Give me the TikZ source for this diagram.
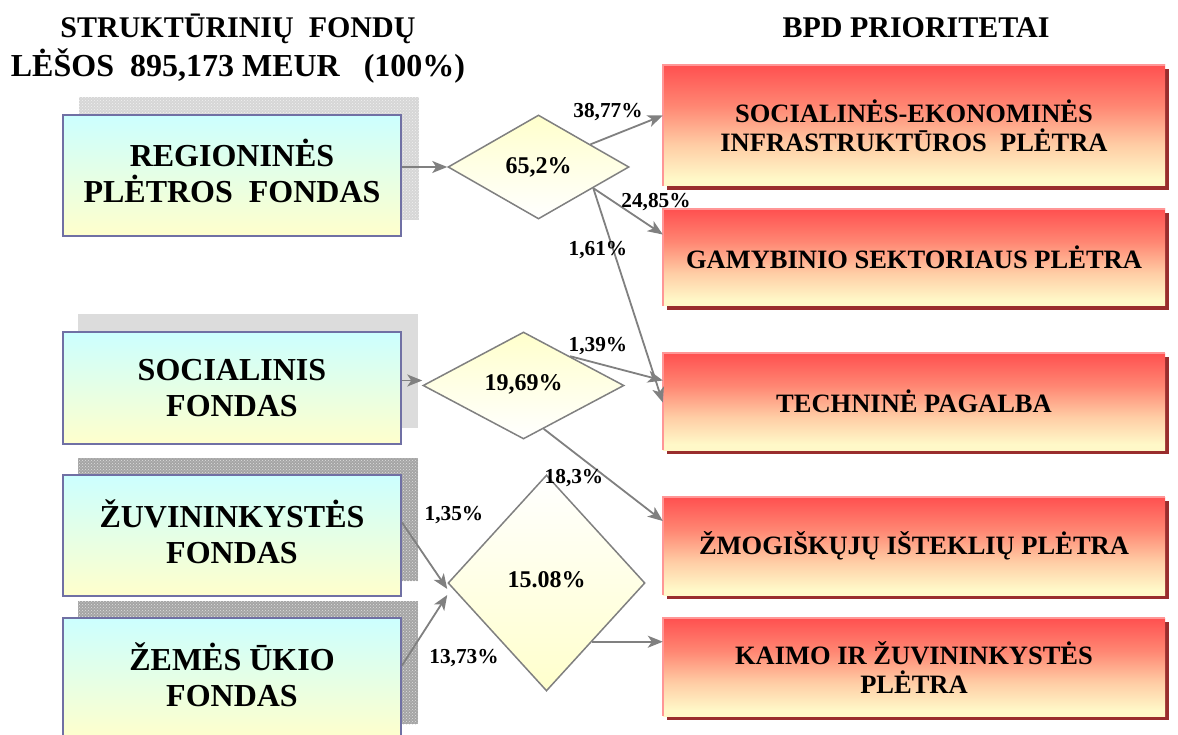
\documentclass[tikz,border=0pt]{standalone}
\usepackage{fontspec}
\setmainfont{Liberation Serif}
\usetikzlibrary{shapes.geometric,arrows.meta,calc,backgrounds,patterns}

\definecolor{fundedge}{RGB}{112,112,164}
\definecolor{fundtop}{RGB}{204,255,255}
\definecolor{fundbot}{RGB}{255,255,204}
\definecolor{priored}{RGB}{255,80,80}
\definecolor{priosalmon}{RGB}{255,135,115}
\definecolor{priopeach}{RGB}{255,205,165}
\definecolor{prioyellow}{RGB}{255,248,200}
\definecolor{priorim}{RGB}{255,150,150}
\definecolor{priodrop}{RGB}{153,45,45}
\definecolor{flowgray}{RGB}{128,128,128}
\definecolor{splitfill}{RGB}{255,255,204}
\definecolor{shadelight}{RGB}{214,214,214}
\definecolor{shadeplain}{RGB}{220,220,220}
\definecolor{shadedark}{RGB}{165,165,165}

\pgfdeclareverticalshading{prioshade}{100bp}{color(0bp)=(prioyellow); color(28bp)=(prioyellow); color(42bp)=(priopeach); color(58bp)=(priosalmon); color(75bp)=(priored); color(100bp)=(priored)}

\tikzset{
  fund/.style={rectangle, draw=fundedge, line width=2pt, top color=fundtop,
    bottom color=fundbot, minimum width=338pt, inner sep=0pt, align=center,
    font=\fontsize{32}{36}\selectfont\bfseries},
  prio/.style={rectangle, shading=prioshade, minimum width=502pt, inner sep=0pt,
    align=center, font=\fontsize{26.5}{29}\selectfont\bfseries},
  split/.style={diamond, draw=flowgray, line width=1.5pt, inner sep=0pt,
    font=\fontsize{24}{24}\selectfont\bfseries},
  flow/.style={draw=flowgray, line width=1.8pt,
    -{Stealth[length=15pt,width=12pt,inset=4pt]}},
  share/.style={font=\fontsize{21.3}{22}\selectfont\bfseries, inner sep=0pt},
  heading/.style={font=\fontsize{30}{36}\selectfont\bfseries, inner sep=0pt, anchor=base},
  rim/.style={draw=priorim, line width=2pt},
}

\begin{document}
\begin{tikzpicture}[x=1pt,y=-1pt]
\useasboundingbox (0,0) rectangle (1178,735);

% headings
\node[heading] (t1) at (238,38) {STRUKTŪRINIŲ\ \ FONDŲ};
\node[heading, font=\fontsize{32}{36}\selectfont\bfseries] (t2) at (238,77) {LĖŠOS\ \ 895,173 MEUR\ \ \ (100\%)};
\node[heading] (t3) at (916,38) {BPD PRIORITETAI};

% funds
\node[fund, minimum height=121pt, text depth=10pt] (reg) at (232,175.5) {REGIONINĖS\\PLĖTROS\ \ FONDAS};
\node[fund, minimum height=112pt] (soc) at (232,388) {SOCIALINIS\\FONDAS};
\node[fund, minimum height=121pt, text depth=8pt] (zuv) at (232,535.5) {ŽUVININKYSTĖS\\FONDAS};
\node[fund, minimum height=121pt, text depth=8pt] (zem) at (232,678.5) {ŽEMĖS ŪKIO\\FONDAS};

% priorities
\node[prio, minimum height=121pt] (infra) at (914,125.5) {SOCIALINĖS-EKONOMINĖS\\INFRASTRUKTŪROS\ \ PLĖTRA};
\node[prio, minimum height=97pt] (gamyb) at (914,257.5) {GAMYBINIO SEKTORIAUS PLĖTRA};
\node[prio, minimum height=97pt] (techn) at (914,401.5) {TECHNINĖ PAGALBA};
\node[prio, minimum height=98pt] (zmog) at (914,546) {ŽMOGIŠKŲJŲ IŠTEKLIŲ PLĖTRA};
\node[prio, minimum height=98pt] (kaimo) at (914,667) {KAIMO IR ŽUVININKYSTĖS\\PLĖTRA};
\foreach \b in {infra,gamyb,techn,zmog,kaimo}
  \draw[rim] (\b.south west) -- (\b.north west) -- (\b.north east);

% splits
\node[split, minimum width=181pt, minimum height=104pt, top color=splitfill,
  bottom color=white] (d1) at (538.5,167) {65,2\%};
\node[split, minimum width=201pt, minimum height=107pt, top color=splitfill,
  bottom color=white, text height=16pt, text depth=7pt] (d2) at (523.5,385.5) {19,69\%};
\node[split, minimum width=197pt, minimum height=216pt, top color=white,
  bottom color=splitfill, text height=16pt, text depth=7pt] (d3) at (546.5,583) {15.08\%};

% flows into the splits
\draw[flow] (reg.east |- d1.west) -- (d1.west);
\coordinate (socin) at ([yshift=5pt]d2.west);
\draw[flow] (soc.east |- socin) -- (socin);
\coordinate (zuvin) at ([yshift=-6pt]d3.west);
\draw[flow] ([yshift=13pt]zuv.east) -- (zuvin);
\coordinate (zemin) at ([yshift=-12pt]d3.west);
\draw[flow] ([yshift=13pt]zem.east) -- (zemin);

% flows out of the splits
\coordinate (d1a) at ($(d1.north)!0.57!(d1.east)$);
\coordinate (d1b) at ($(d1.south)!0.6!(d1.east)$);
\draw[flow] (d1a) -- ([yshift=10pt]infra.west);
\draw[flow] (d1b) -- ([yshift=23pt]gamyb.west);
\draw[flow] (d1b) -- ([yshift=-1pt]techn.west);
\coordinate (d2a) at ($(d2.north)!0.46!(d2.east)$);
\coordinate (d2b) at ($(d2.south)!0.2!(d2.east)$);
\draw[flow] (d2a) -- ([yshift=21pt]techn.west);
\draw[flow] (d2b) -- ([yshift=25pt]zmog.west);
\coordinate (d3a) at ($(d3.south)!0.46!(d3.east)$);
\draw[flow] (d3a) -- (d3a -| kaimo.west);

% shares
\node[share] (s1) at (608,112) {38,77\%};
\node[share] (s2) at (656,202) {24,85\%};
\node[share] (s3) at (598,250) {1,61\%};
\node[share] (s4) at (598,346) {1,39\%};
\node[share] (s5) at (574,478) {18,3\%};
\node[share] (s6) at (454,515) {1,35\%};
\node[share] (s7) at (464,658) {13,73\%};

\begin{pgfonlayer}{background}
  \fill[white] (0,0) rectangle (1178,735);
  % drop shadows of the priority boxes
  \foreach \b in {infra,gamyb,techn,zmog,kaimo}
    \fill[priodrop] ([shift={(4,4)}]\b.south west) rectangle ([shift={(4,4)}]\b.north east);
  % backdrops of the fund boxes
  \fill[shadelight] ([shift={(17,-17)}]reg.south west) rectangle ([shift={(17,-17)}]reg.north east);
  \fill[pattern=crosshatch dots, pattern color=white!90!gray] ([shift={(17,-17)}]reg.south west) rectangle ([shift={(17,-17)}]reg.north east);
  \fill[shadeplain] ([shift={(16,-17)}]soc.south west) rectangle ([shift={(16,-17)}]soc.north east);
  \foreach \b in {zuv,zem} {
    \fill[shadedark] ([shift={(16,-16)}]\b.south west) rectangle ([shift={(16,-16)}]\b.north east);
    \fill[pattern=crosshatch dots, pattern color=white!75!gray] ([shift={(16,-16)}]\b.south west) rectangle ([shift={(16,-16)}]\b.north east);
  }
\end{pgfonlayer}
\end{tikzpicture}
\end{document}
